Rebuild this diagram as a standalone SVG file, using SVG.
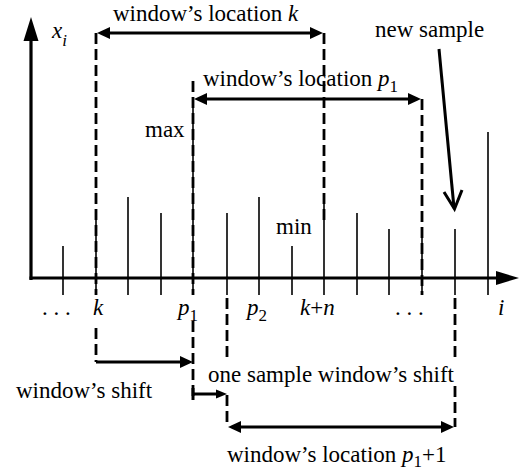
<svg xmlns="http://www.w3.org/2000/svg" width="519" height="473" viewBox="0 0 519 473">
<style>
.lbl text{font-family:'Liberation Serif','Times New Roman','DejaVu Serif',serif;font-size:23px;fill:#000}
.it{font-style:italic}
.sub{font-size:17px}
.stem{stroke:#000;stroke-width:1.6}
.axis{stroke:#000;stroke-width:3.2;fill:none}
.dash{stroke:#000;stroke-width:2.8;stroke-dasharray:11 5;fill:none}
.arr{stroke:#000;stroke-width:3;fill:none}
.head{fill:#000}
</style>
<rect width="519" height="473" fill="#fff"/>
<g id="axes">
<line class="axis" x1="31" y1="280" x2="31" y2="38"/>
<polygon class="head" points="31,17 23.5,41 38.5,41"/>
<line class="axis" x1="29.5" y1="278" x2="498" y2="278"/>
<polygon class="head" points="519,278 496,271 496,285"/>
</g>
<g id="stems">
<line class="stem" x1="63" y1="246" x2="63" y2="295"/>
<line class="stem" x1="96" y1="213" x2="96" y2="295"/>
<line class="stem" x1="128" y1="197" x2="128" y2="295"/>
<line class="stem" x1="161" y1="213" x2="161" y2="295"/>
<line class="stem" x1="193" y1="100" x2="193" y2="295"/>
<line class="stem" x1="227" y1="213" x2="227" y2="295"/>
<line class="stem" x1="259" y1="197" x2="259" y2="295"/>
<line class="stem" x1="292" y1="246" x2="292" y2="295"/>
<line class="stem" x1="324" y1="197" x2="324" y2="295"/>
<line class="stem" x1="357" y1="213" x2="357" y2="295"/>
<line class="stem" x1="389" y1="229" x2="389" y2="295"/>
<line class="stem" x1="422" y1="229" x2="422" y2="295"/>
<line class="stem" x1="455" y1="229" x2="455" y2="295"/>
<line class="stem" x1="488" y1="132" x2="488" y2="295"/>
</g>
<g id="connectors">
<line class="dash" x1="96" y1="33" x2="96" y2="295"/>
<line class="dash" x1="96" y1="328" x2="96" y2="362"/>
<line class="dash" x1="324" y1="33" x2="324" y2="225"/>
<line class="arr" x1="108" y1="33" x2="312" y2="33"/>
<polygon class="head" points="97,33 110,27 110,39"/>
<polygon class="head" points="323,33 310,27 310,39"/>
<line class="dash" x1="193" y1="81" x2="193" y2="295"/>
<line class="dash" x1="193" y1="321" x2="193" y2="399"/>
<line class="dash" x1="422" y1="99" x2="422" y2="295"/>
<line class="arr" x1="205" y1="99" x2="410" y2="99"/>
<polygon class="head" points="194,99 207,93 207,105"/>
<polygon class="head" points="421,99 408,93 408,105"/>
<line class="arr" x1="439" y1="49" x2="454" y2="208" stroke-width="2.4"/>
<polyline class="arr" points="444,192 454.5,209 462,190" stroke-width="2.4"/>
<line class="arr" x1="96" y1="362" x2="182" y2="362"/>
<polygon class="head" points="193,362 180,356 180,368"/>
<line class="arr" x1="193" y1="394" x2="218" y2="394" stroke-width="2.4"/>
<line class="arr" x1="193" y1="388" x2="193" y2="400" stroke-width="2.4"/>
<polygon class="head" points="227,394 216,389.5 216,398.5"/>
<line class="dash" x1="227" y1="298" x2="227" y2="362"/>
<line class="dash" x1="227" y1="395" x2="227" y2="427"/>
<line class="dash" x1="455" y1="298" x2="455" y2="359"/>
<line class="dash" x1="455" y1="386" x2="455" y2="427"/>
<line class="arr" x1="239" y1="427" x2="443" y2="427"/>
<polygon class="head" points="228,427 241,421 241,433"/>
<polygon class="head" points="454,427 441,421 441,433"/>
</g>
<g id="labels" class="lbl" font-family="'Liberation Serif', 'DejaVu Serif', serif" font-size="23">
<text x="52" y="38" class="it">x<tspan class="sub" dy="8">i</tspan></text>
<text x="113" y="21">window’s location <tspan class="it">k</tspan></text>
<text x="203" y="86">window’s location <tspan class="it">p</tspan><tspan class="sub" dy="6">1</tspan></text>
<text x="375" y="37">new sample</text>
<text x="145" y="137">max</text>
<text x="276" y="234">min</text>
<text x="42" y="315">. . .</text>
<text x="93" y="315" class="it">k</text>
<text x="178" y="315" class="it">p<tspan class="sub" dy="6" font-style="normal">1</tspan></text>
<text x="247" y="315" class="it">p<tspan class="sub" dy="6" font-style="normal">2</tspan></text>
<text x="300" y="315" class="it">k<tspan font-style="normal">+</tspan>n</text>
<text x="395" y="315">. . .</text>
<text x="498" y="315" class="it">i</text>
<text x="16" y="398">window’s shift</text>
<text x="208" y="382">one sample window’s shift</text>
<text x="227" y="462">window’s location <tspan class="it">p</tspan><tspan class="sub" dy="5">1</tspan><tspan dy="-5">+1</tspan></text>
</g>
</svg>
